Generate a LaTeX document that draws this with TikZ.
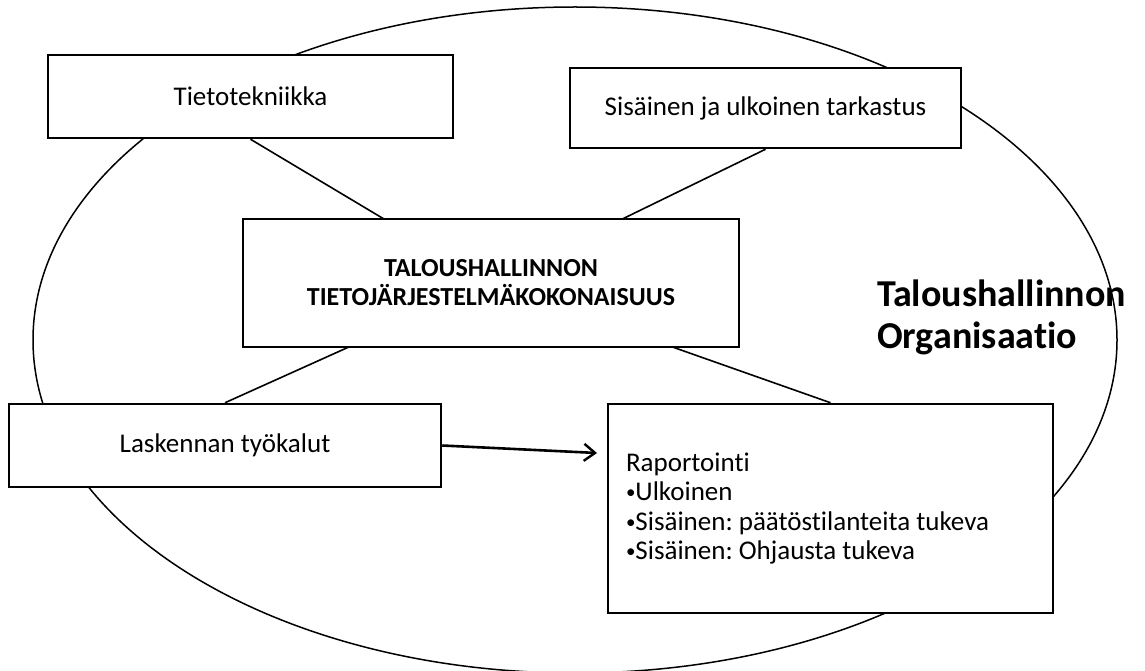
\documentclass[tikz,border=0pt]{standalone}
\usepackage{fontspec}
\setmainfont{Carlito}[Ligatures={NoCommon}]
\usetikzlibrary{arrows.meta,backgrounds}
% small list bullet for the reporting box
\newcommand{\itemdot}{\raisebox{2pt}{\fontsize{19}{19}\selectfont•}}
\begin{document}
\frenchspacing
\begin{tikzpicture}[x=1pt,y=-1pt,
  box/.style={draw=black, line width=2.5pt, fill=white, inner sep=0pt,
    align=center, font=\fontsize{27}{30}\selectfont},
  corebox/.style={box, font=\fontsize{26}{29}\selectfont\bfseries},
  link/.style={draw=black, line width=1.6pt},
  ring/.style={draw=black, line width=1.5pt},
  flow/.style={draw=black, line width=2.6pt,
    -{Straight Barb[length=11pt,width=17pt,line width=2.4pt]}},
  orglabel/.style={anchor=base west, inner sep=0pt,
    font=\fontsize{38}{42}\selectfont\bfseries}
]
\useasboundingbox (0,0) rectangle (1145,671);
\clip (0,0) rectangle (1145,671);

% boxes
\node[box, minimum width=405pt, minimum height=83pt] (it) at (250.5,96.5) {Tietotekniikka};
\node[box, minimum width=391pt, minimum height=80pt] (audit) at (765.5,108) {Sisäinen ja ulkoinen tarkastus};
\node[corebox, minimum width=496pt, minimum height=128pt] (core) at (491,283)
  {TALOUSHALLINNON\\TIETOJÄRJESTELMÄKOKONAISUUS};
\node[box, minimum width=432pt, minimum height=83pt] (calc) at (225,445.5) {Laskennan työkalut};
\node[box, minimum width=445pt, minimum height=209pt, text width=409pt, align=flush left,
  font=\fontsize{27}{29.5}\selectfont] (report) at (830.5,508.5)
  {Raportointi\\\itemdot Ulkoinen\\\itemdot Sisäinen: päätöstilanteita tukeva\\\itemdot Sisäinen: Ohjausta tukeva};

% organisation label
\node[orglabel] (org1) at (877,306) {Taloushallinnon};
\node[orglabel] (org2) at (877,348) {Organisaatio};

% arrow from the calculation tools to reporting
\coordinate (tip) at (597,453);
\draw[flow] (calc.east) -- (tip);

% ellipse and spokes behind the boxes
\begin{pgfonlayer}{background}
  \draw[ring] (575,340) ellipse [x radius=542, y radius=333];
  \draw[link] (it.south) -- (core.center);
  \draw[link] (audit.south) -- (core.center);
  \draw[link] (calc.north) -- (core.center);
  \draw[link] (report.north) -- (core.center);
\end{pgfonlayer}
\end{tikzpicture}
\end{document}
